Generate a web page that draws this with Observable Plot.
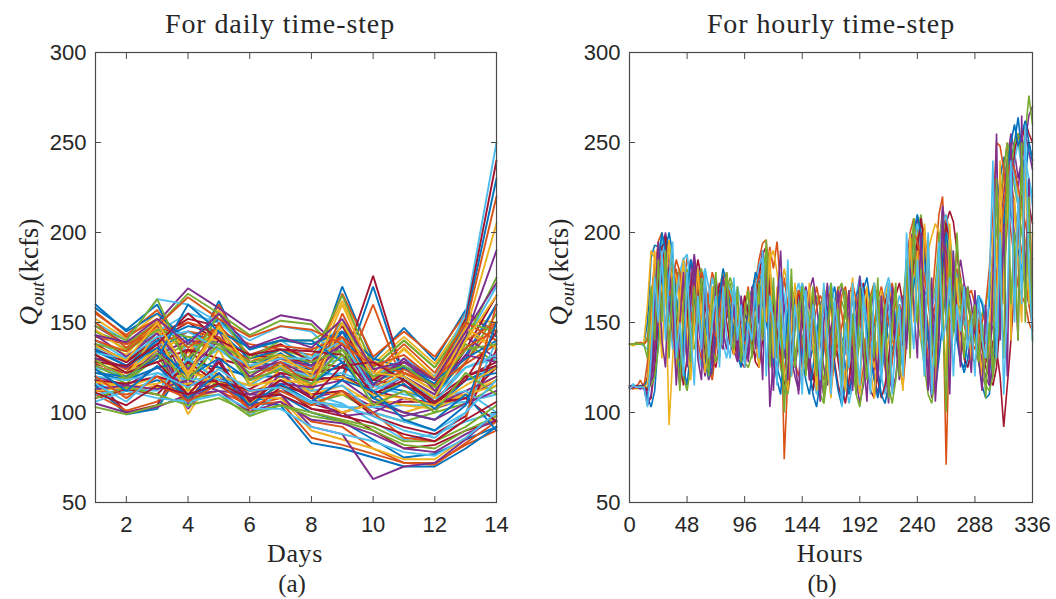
<!DOCTYPE html>
<html>
<head>
<meta charset="utf-8">
<script src="https://cdn.jsdelivr.net/npm/d3@7"></script>
<script src="https://cdn.jsdelivr.net/npm/@observablehq/plot@0.6"></script>
<style>
  html, body { margin: 0; padding: 0; background: #fff; }
  #wrap { display: flex; width: 1056px; height: 599px; overflow: hidden; }
  #wrap svg { display: block; flex: none; }
</style>
</head>
<body>
<div id="wrap"></div>
<script>
// ---------- data ----------
const lineColors = ["#0072BD", "#D95319", "#EDB120", "#7E2F8E", "#77AC30", "#4DBEEE", "#A2142F"];
const yTicks = [50, 100, 150, 200, 250, 300];
const dayTicks = [2, 4, 6, 8, 10, 12, 14];
const hourTicks = [0, 48, 96, 144, 192, 240, 288, 336];
const days = [1, 2, 3, 4, 5, 6, 7, 8, 9, 10, 11, 12, 13, 14];

const dailySeries = [
  [158,146,160,127,162,125,133,121,170,129,147,129,157,142],
  [155,143,157,130,160,128,135,124,166,131,145,131,155,145],
  [152,141,155,133,157,130,132,126,162,127,142,127,152,150],
  [148,138,150,169,158,146,154,151,135,120,125,115,130,160],
  [145,135,148,166,155,143,151,149,132,118,122,112,128,155],
  [150,140,163,160,150,140,148,145,128,115,120,110,140,170],
  [135,128,140,150,140,132,130,128,125,176,120,110,135,165],
  [130,125,135,145,138,128,126,124,120,170,118,108,132,160],
  [125,122,132,140,135,125,122,120,118,160,115,105,128,150],
  [140,132,152,118,150,120,130,118,150,120,135,120,145,135],
  [138,128,148,115,145,118,128,115,145,118,130,118,142,130],
  [132,124,145,112,142,115,126,112,140,115,128,115,138,128],
  [120,99,103,140,125,110,115,110,105,95,85,88,95,100],
  [118,100,104,135,120,108,112,105,100,90,80,82,90,95],
  [115,99,102,130,118,106,110,100,95,85,75,77,85,92],
  [110,101,106,125,115,104,108,95,92,80,72,72,82,90],
  [128,120,138,99,125,110,120,110,115,105,100,105,110,120],
  [126,118,135,102,122,107,118,108,112,103,98,102,108,118],
  [124,116,132,104,118,105,115,105,110,100,95,100,105,115],
  [125,120,140,103,130,98,112,105,103,103,104,104,106,110],
  [127,122,142,106,128,100,114,102,100,105,106,106,108,125],
  [115,112,118,110,115,106,104,83,80,75,70,70,80,92],
  [112,110,115,108,112,104,106,86,82,77,72,71,83,95],
  [118,114,120,112,118,108,108,90,85,80,74,74,86,98],
  [120,115,125,115,120,110,110,92,88,63,70,72,85,100],
  [145,138,150,130,148,125,135,130,165,125,140,125,150,140],
  [136,130,140,125,135,122,128,125,130,122,118,110,125,130],
  [130,125,128,135,130,125,124,122,125,118,115,108,120,128],
  [122,118,125,128,125,120,120,118,120,115,112,106,118,125],
  [142,138,145,150,145,138,135,132,140,128,122,115,140,150],
  [112,114,116,122,118,112,114,112,110,108,104,102,110,118],
  [105,100,103,110,112,100,106,96,94,88,80,78,88,96],
  [103,99,104,108,110,98,104,98,95,90,82,80,90,98],
  [140,130,145,155,150,135,140,130,150,120,130,120,155,250],
  [138,128,142,152,148,132,138,128,148,118,128,118,152,240],
  [135,126,140,148,145,130,135,126,145,116,126,116,150,230],
  [132,124,138,145,142,128,132,124,142,114,124,114,148,220],
  [130,122,135,142,140,126,130,122,140,112,122,112,145,205],
  [128,120,132,140,138,124,128,120,138,110,120,110,142,190],
  [126,118,130,138,136,122,126,118,135,108,118,108,140,175],
  [120,118,122,118,120,115,118,112,115,100,95,90,100,140],
  [118,116,120,115,118,112,115,110,112,98,92,88,98,135],
  [160,145,155,140,152,135,140,138,145,130,125,118,130,140],
  [156,142,152,136,148,132,137,135,142,127,122,115,127,138],
  [128,120,145,108,135,104,125,110,100,105,112,108,110,115],
  [130,125,138,105,130,102,122,108,98,100,108,104,112,120],
  [148,140,163,125,155,130,140,140,150,125,140,125,150,145],
  [110,113,112,130,118,115,125,120,122,115,110,108,112,100],
  [108,113,110,128,116,113,122,118,120,112,108,105,108,95],
  [134,126,136,120,130,118,124,116,128,108,100,96,110,90],
  [150,136,150,122,150,118,128,114,155,122,138,122,150,140],
  [146,134,147,120,147,116,126,113,150,119,136,119,147,136],
  [143,131,144,124,140,120,130,126,138,115,130,112,132,128],
  [138,134,146,142,138,128,132,128,135,120,126,114,135,138],
  [133,130,142,145,135,126,130,130,140,112,120,106,125,132],
  [128,126,138,155,140,132,135,134,132,110,118,104,120,126],
  [122,120,130,160,145,136,140,140,128,108,116,102,118,122],
  [140,134,148,164,152,142,148,146,138,126,132,118,136,146],
  [117,113,114,116,120,115,118,116,120,110,108,104,115,125],
  [113,115,113,118,112,110,116,114,118,106,100,96,105,112],
  [108,114,110,104,108,100,104,100,96,92,84,84,92,104],
  [106,112,108,106,110,102,102,92,88,84,78,76,86,100],
  [132,122,128,110,128,106,118,108,126,128,118,106,118,145],
  [124,112,126,108,122,104,116,106,118,112,96,90,104,150],
  [120,108,120,106,116,102,112,104,112,100,86,84,96,160],
  [137,129,150,122,148,124,132,120,160,122,120,108,140,165],
  [143,139,152,138,155,136,142,136,152,124,128,118,145,172],
  [129,119,133,118,138,118,124,116,132,104,112,100,122,110],
  [116,106,122,114,124,112,114,106,104,98,90,86,100,118],
  [111,104,115,110,116,108,110,102,98,94,88,84,96,106]
];

// hourly values, one reading every 3 hours (0, 3, ..., 336)
const hourStep = 3;
const hourlySeries = [
  [138,138,138,138,138,150,186,193,192,190, 186,184,182,178,176,180,172,168,174,165, 160,166,158,152,160,168,162,155,150,158, 150,145,152,160,168,175,170,180,186,170, 160,150,142,135,140,148,155,150,142,135, 128,136,145,152,160,150,142,135,130,138, 146,155,162,150,140,132,128,138,148,156, 165,152,140,135,142,150,158,170,185,196, 188,175,165,170,160,150,172,190,180,168, 160,170,162,152,148,155,150,142,138,145, 160,190,215,230,242,225,210,200,190,180, 170,160,152],
  [114,115,114,118,114,120,150,178,195,200, 185,160,140,128,150,170,186,175,160,140, 128,145,165,178,170,150,140,155,165,160, 150,140,132,145,160,172,185,194,196,165, 140,130,150,175,160,140,128,120,135,150, 165,150,135,125,118,130,145,160,170,155, 140,125,118,130,150,165,158,140,125,120, 135,150,165,172,160,140,150,175,200,208, 195,170,150,140,160,185,210,220,180,150, 170,190,175,160,150,140,135,145,155,150, 140,130,160,200,235,250,230,215,200,190, 175,160,148],
  [114,114,113,114,115,108,125,150,170,160, 175,93,130,165,175,150,135,160,178,165, 140,128,150,170,160,145,165,170,150,140, 145,155,160,148,140,150,165,180,175,150, 130,145,165,180,170,150,130,140,155,160, 150,140,130,145,160,168,155,140,130,125, 135,150,165,155,140,130,145,160,170,150, 135,128,140,155,165,150,140,160,180,190, 200,185,160,150,140,155,175,190,210,200, 180,165,150,140,145,155,160,150,140,135, 145,165,190,210,225,240,250,235,220,210, 195,185,170],
  [114,114,115,114,116,112,118,135,165,190, 200,185,160,140,120,135,160,185,170,150, 135,120,140,165,175,160,145,135,150,168, 160,145,135,130,145,165,178,190,170,145, 130,120,140,160,150,135,125,140,160,170, 160,145,132,120,110,125,145,160,150,140, 125,112,125,145,160,170,155,140,120,110, 125,145,160,150,135,125,140,160,185,200, 208,190,165,145,130,150,185,215,200,175, 155,140,150,165,170,160,145,135,130,128, 135,150,175,200,220,240,255,245,230,240, 255,245,235],
  [138,138,139,138,138,142,165,180,186,175, 165,150,158,172,180,170,155,140,135,150, 162,170,160,148,140,135,150,165,172,160, 148,138,145,158,165,158,150,165,180,175, 165,150,140,130,145,160,168,155,140,130, 140,155,165,158,145,130,122,135,150,162, 155,145,130,125,140,155,165,150,140,135, 145,160,170,158,145,138,150,170,190,205, 200,210,195,175,160,170,195,210,195,180, 165,155,160,170,165,152,145,148,155,160, 170,185,200,220,235,250,240,225,215,200, 185,175,160],
  [114,116,114,114,113,110,140,170,188,195, 180,155,135,150,170,185,188,170,150,135, 125,140,160,175,165,150,138,130,145,160, 170,160,150,140,135,145,158,170,185,178, 165,150,138,125,135,150,165,172,160,145, 132,120,110,125,140,155,165,158,145,130, 118,105,115,130,148,160,170,160,145,130, 120,110,128,145,155,165,158,150,160,175, 190,200,185,165,150,140,160,180,200,190, 175,160,148,135,130,138,150,160,150,140, 130,120,135,160,190,215,230,240,250,235, 220,230,215],
  [114,114,115,114,114,106,108,125,150,175, 198,190,170,150,130,115,130,150,170,185, 175,160,145,130,125,140,160,175,165,150, 138,128,125,138,150,162,175,188,192,165, 150,140,128,115,125,140,155,165,150,135, 120,112,128,145,160,170,160,145,128,115, 105,118,135,150,165,172,160,145,130,118, 108,115,130,150,165,172,160,150,170,185, 195,205,200,180,160,150,165,185,205,212, 206,190,170,150,140,145,155,150,135,125, 120,115,125,150,175,205,225,245,255,250, 262,255,250],
  [114,114,114,115,114,109,103,112,140,170, 190,200,188,165,145,125,115,135,160,180, 170,150,130,120,140,160,175,165,150,140, 132,125,140,155,168,160,150,145,165,150, 135,125,118,110,120,135,150,162,155,140, 125,110,103,118,135,150,162,170,155,140, 125,110,120,138,155,168,175,160,140,122, 110,105,115,130,148,160,150,140,155,170, 185,175,160,140,120,112,130,150,170,160, 150,140,128,125,140,150,145,130,115,108, 110,130,155,175,205,225,240,250,264,245, 230,250,240],
  [114,113,114,114,114,128,160,185,178,165, 150,140,160,180,165,145,130,150,170,178, 165,145,125,118,135,155,170,178,160,142, 130,140,158,170,150,140,135,150,178,192, 180,195,170,74,120,145,165,150,135,125, 140,158,170,160,140,125,112,130,150,165, 170,158,140,125,112,125,145,165,172,155, 140,125,112,128,145,160,155,165,175,190, 175,160,150,130,115,125,150,175,71,150, 170,180,165,150,140,130,128,135,150,160, 180,210,250,248,235,215,200,185,170,165, 160,150,145],
  [138,137,138,138,139,160,190,186,178,168, 160,170,180,175,160,145,150,168,182,172, 158,145,135,140,155,170,178,170,160,150, 145,152,162,168,160,148,140,155,172,185, 190,178,160,145,130,120,130,145,160,158, 145,135,140,150,162,170,165,150,138,128, 120,132,148,160,168,158,145,132,125,138, 152,165,172,160,148,140,135,148,165,180, 170,160,175,190,198,205,200,185,165,155, 145,160,172,168,160,150,140,132,125,130, 150,170,185,200,215,230,220,210,195,185, 175,168,158],
  [115,114,114,114,114,104,110,130,160,185, 178,160,145,130,115,128,150,172,188,170, 150,130,118,125,145,165,176,160,145,135, 128,140,155,150,138,130,145,168,180,103, 130,155,178,160,140,130,120,112,130,150, 168,175,160,140,125,115,130,148,160,170, 165,150,132,118,105,115,135,155,170,165, 150,135,122,112,120,140,160,180,200,195, 180,160,140,125,108,140,175,200,190,170, 155,170,185,172,160,150,148,140,128,120, 115,125,140,165,200,230,245,235,225,240, 250,265,270],
  [114,114,114,114,114,114,115,120,135,160, 185,195,180,160,140,120,112,125,148,168, 180,168,150,135,128,135,150,168,175,168, 155,140,128,125,132,145,160,175,192,180, 160,140,125,115,110,125,145,160,172,165, 150,135,122,110,105,120,140,155,168,172, 158,140,125,110,103,118,140,160,172,160, 145,128,115,105,118,140,160,185,170,160, 150,140,125,110,105,120,160,195,150,130, 145,165,175,160,150,145,140,128,120,115, 112,120,135,160,190,210,235,250,255,240, 255,276,260],
  [138,138,138,138,137,135,150,172,190,198, 185,168,155,165,178,186,175,160,152,160, 172,180,170,155,145,150,160,172,168,155, 145,135,130,140,155,170,182,186,175,160, 150,165,178,165,150,140,150,165,172,160, 148,138,130,140,152,165,172,162,150,140, 132,140,152,165,176,165,150,140,132,140, 155,168,175,165,150,140,145,160,178,190, 205,195,178,165,158,165,185,205,210,195, 185,175,160,150,145,150,158,165,162,155, 145,150,168,190,210,225,240,230,215,225, 240,230,220],
  [113,114,114,114,115,112,120,145,170,192, 195,175,150,132,118,130,152,170,180,168, 150,132,125,138,158,172,165,150,138,132, 140,150,165,155,142,128,125,140,160,170, 158,145,132,118,112,130,152,168,155,140, 128,118,130,150,165,158,142,128,115,108, 118,135,150,162,158,140,125,112,108,125, 145,160,168,155,140,125,115,140,165,182, 190,208,190,165,140,120,145,180,205,195, 175,160,145,130,125,135,148,158,145,130, 125,140,135,120,92,115,140,170,200,220, 225,215,205],
  [114,114,114,114,114,118,135,158,182,200, 190,170,150,135,125,140,165,185,178,160, 145,128,120,132,150,165,180,172,158,145, 135,130,140,152,165,178,172,160,150,140, 128,118,110,135,155,170,160,145,130,118, 110,125,142,158,168,155,140,125,112,104, 115,132,148,165,170,160,145,130,118,108, 120,138,152,165,150,135,125,150,178,200, 210,200,185,170,150,130,155,185,200,185, 165,145,130,122,130,145,155,165,160,150, 135,128,145,175,205,235,250,260,248,255, 262,250,240],
  [138,138,138,139,138,140,155,168,182,188, 178,165,172,185,178,162,150,142,155,170, 178,172,160,150,142,148,160,170,165,158, 150,142,138,145,158,168,176,180,168,155, 145,138,130,122,135,150,160,168,162,150, 142,148,158,165,160,150,140,132,138,148, 158,165,172,162,150,142,135,140,150,162, 170,160,150,140,135,145,158,172,188,200, 195,185,175,160,150,160,180,195,185,170, 160,150,145,155,165,168,160,150,142,138, 140,155,175,195,215,230,240,235,225,215, 205,195,185],
  [114,114,114,114,114,116,145,190,160,130, 170,196,150,120,165,185,140,118,150,180, 150,122,135,170,150,132,160,176,145,132, 160,140,128,150,166,140,125,175,150,190, 130,170,150,120,112,150,172,135,120,150, 172,140,112,150,170,125,108,145,165,130, 112,150,175,130,110,155,170,125,108,140, 168,135,110,145,170,130,112,160,200,150, 190,140,205,170,130,110,190,160,120,205, 150,175,130,165,150,128,160,140,120,155, 130,200,150,240,160,230,140,220,180,150, 240,160,200],
  [115,114,114,113,114,110,118,160,195,140, 125,180,160,115,150,178,125,160,186,130, 118,170,145,125,175,140,135,172,140,160, 130,165,150,128,170,135,160,118,185,145, 112,160,190,140,118,170,130,110,165,145, 118,165,140,106,150,172,118,150,168,112, 140,168,112,150,176,130,106,160,140,118, 165,130,105,170,140,118,165,135,180,160, 130,200,150,112,175,106,140,212,165,110, 190,150,125,172,140,122,168,130,112,160, 115,175,255,140,205,120,250,180,140,265, 170,230,145],
  [138,138,138,138,138,130,170,140,185,150, 190,130,175,145,112,160,180,128,170,150, 175,140,120,160,178,130,150,178,140,135, 170,128,155,168,130,150,172,140,196,125, 175,130,155,100,140,180,125,150,170,120, 150,170,120,160,105,140,172,130,158,112, 168,125,155,110,170,140,118,165,130,175, 125,160,108,150,172,120,150,185,130,208, 150,180,120,198,140,125,200,160,100,190, 145,200,160,130,170,140,160,128,150,108, 150,120,230,175,130,245,160,200,140,250, 150,220,140],
  [113,115,114,114,114,103,130,175,150,190, 140,175,195,130,150,120,178,145,115,165, 135,180,130,150,165,125,170,140,130,175, 140,160,125,150,140,172,130,190,120,165, 150,115,175,135,185,120,160,140,110,168, 130,160,145,118,172,140,110,162,145,103, 150,125,172,140,115,165,135,110,172,150, 118,150,172,110,140,160,120,200,160,135, 185,150,120,200,110,150,195,140,150,175, 120,160,145,170,135,150,120,165,140,130, 170,240,130,200,110,160,240,150,220,160, 260,180,140]
];

// ---------- helpers ----------
const SANS = "'Liberation Sans', Arial, Helvetica, sans-serif";
const SERIF = "'Liberation Serif', 'Times New Roman', serif";
const AXIS = "#262626";

function flatten(series, xs) {
  return series.flatMap((vals, s) =>
    vals.map((v, i) => ({s, x: xs[i], y: v, c: lineColors[s % lineColors.length]})));
}

function panel({data, xDomain, xTicks, marginLeft, marginRight, title, titleX, xLabel, xLabelX, tag, tagX, yLabelX, lineWidth}) {
  const svg = Plot.plot({
    width: 528,
    height: 599,
    marginTop: 52,
    marginBottom: 97,
    marginLeft,
    marginRight,
    style: {fontFamily: SANS, fontSize: "22px", color: AXIS, background: "#fff", overflow: "visible"},
    x: {domain: xDomain},
    y: {domain: [50, 300]},
    marks: [
      Plot.line(data, {x: "x", y: "y", z: "s", stroke: "c", strokeWidth: lineWidth, strokeLinejoin: "miter"}),
      Plot.frame({stroke: "#4a4a4a", strokeWidth: 1.2}),
      Plot.axisX({ticks: xTicks, anchor: "bottom", tickSize: -6, tickPadding: 20, label: null, fontSize: 22, stroke: "#4a4a4a"}),
      Plot.axisX({ticks: xTicks, anchor: "top", tickSize: -6, tickFormat: () => "", label: null, stroke: "#4a4a4a"}),
      Plot.axisY({ticks: yTicks, anchor: "left", tickSize: -6, tickPadding: 15, label: null, fontSize: 22, stroke: "#4a4a4a"}),
      Plot.axisY({ticks: yTicks, anchor: "right", tickSize: -6, tickFormat: () => "", label: null, stroke: "#4a4a4a"})
    ]
  });
  const s = d3.select(svg);
  s.append("text")
    .attr("x", titleX).attr("y", 33)
    .attr("text-anchor", "middle")
    .attr("font-family", SERIF).attr("font-size", 28).attr("letter-spacing", 0.9)
    .attr("fill", AXIS)
    .text(title);
  s.append("text")
    .attr("x", xLabelX).attr("y", 562)
    .attr("text-anchor", "middle")
    .attr("font-family", SERIF).attr("font-size", 26).attr("letter-spacing", 0.6)
    .attr("fill", AXIS)
    .text(xLabel);
  s.append("text")
    .attr("x", tagX).attr("y", 592)
    .attr("text-anchor", "middle")
    .attr("font-family", SERIF).attr("font-size", 25)
    .attr("fill", AXIS)
    .text(tag);
  const yl = s.append("text")
    .attr("transform", `translate(${yLabelX},272) rotate(-90)`)
    .attr("text-anchor", "middle")
    .attr("font-family", SERIF).attr("font-size", 27)
    .attr("fill", AXIS);
  yl.append("tspan").attr("font-style", "italic").text("Q");
  yl.append("tspan").attr("font-style", "italic").attr("font-size", 19).attr("dy", 6).text("out");
  yl.append("tspan").attr("dy", -6).text("(kcfs)");
  return svg;
}

const hours = hourlySeries[0].map((_, i) => i * hourStep);

const left = panel({
  data: flatten(dailySeries, days),
  xDomain: [1, 14], xTicks: dayTicks,
  marginLeft: 95, marginRight: 32,
  title: "For daily time-step", titleX: 280,
  xLabel: "Days", xLabelX: 295,
  tag: "(a)", tagX: 292, yLabelX: 38, lineWidth: 1.9
});
const right = panel({
  data: flatten(hourlySeries, hours),
  xDomain: [0, 336], xTicks: hourTicks,
  marginLeft: 101, marginRight: 24,
  title: "For hourly time-step", titleX: 303,
  xLabel: "Hours", xLabelX: 302,
  tag: "(b)", tagX: 294, yLabelX: 40, lineWidth: 1.6
});
document.getElementById("wrap").append(left, right);
</script>
</body>
</html>
